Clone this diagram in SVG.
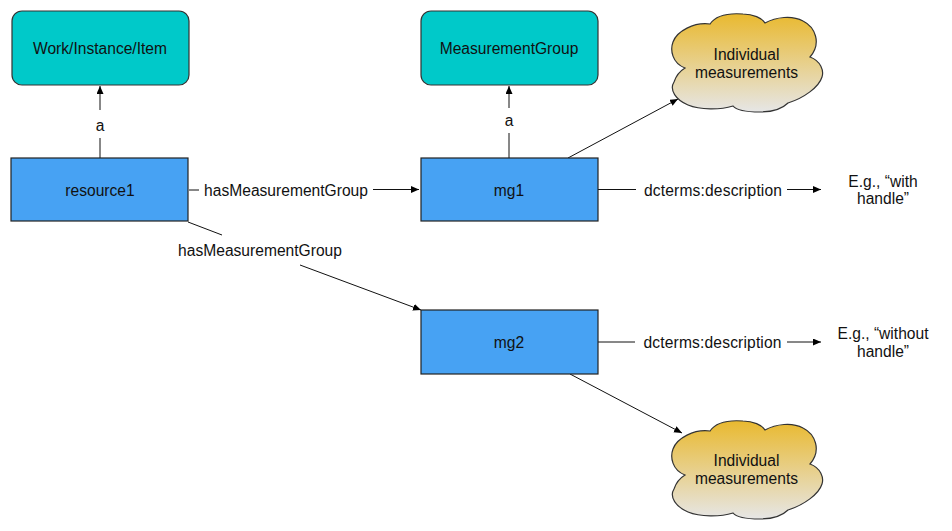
<svg xmlns="http://www.w3.org/2000/svg" width="952" height="531" viewBox="0 0 952 531">
<style>
text{font-family:"Liberation Sans",Arial,sans-serif;font-size:15.6px;fill:#111;text-anchor:middle}
.teal{fill:#00c9c9;stroke:#333;stroke-width:1.2}
.blue{fill:#47a2f3;stroke:#222;stroke-width:1.2}
.cloud{fill:url(#cg);stroke:#333;stroke-width:1.2}
.c{fill:none;stroke:#111;stroke-width:1}
</style>
<defs>
<linearGradient id="cg" x1="0" y1="0" x2="0" y2="1"><stop offset="0" stop-color="#e9b92f"/><stop offset="1" stop-color="#e6e6e6"/></linearGradient>
<marker id="arr" markerWidth="9" markerHeight="8" refX="8" refY="3.5" orient="auto" markerUnits="userSpaceOnUse"><path d="M0 0L8 3.500L0 7z" fill="#000"/></marker>
<path id="cloudShape" d="M685 68C672 63 670 50 673 42C677 31 694 22 710 24C716 15 730 13 743 14C753 14 762 18 765 23C776 17 792 15 803 21C815 27 822 43 810 57C821 61 824 71 822 77C819 87 804 98 788 103C782 109 771 112 760 112C748 112 737 111 733 106C720 110 700 110 688 105C676 100 669 90 674 82C676 76 680 71 685 68Z"/>
</defs>
<g id="connectors">
<path class="c" d="M100 158V138"/><path class="c" d="M100 110V86" marker-end="url(#arr)"/>
<path class="c" d="M189 190H199"/><path class="c" d="M373 189.500H419" marker-end="url(#arr)"/>
<path class="c" d="M188 222L222 235"/><path class="c" d="M300 265L421 310" marker-end="url(#arr)"/>
<path class="c" d="M509 158V133"/><path class="c" d="M509 108V86" marker-end="url(#arr)"/>
<path class="c" d="M568 158L678 99" marker-end="url(#arr)"/>
<path class="c" d="M598 189.500H636"/><path class="c" d="M787 189.500H821" marker-end="url(#arr)"/>
<path class="c" d="M598 342H635"/><path class="c" d="M787 342H821" marker-end="url(#arr)"/>
<path class="c" d="M570 374L682 433" marker-end="url(#arr)"/>
</g>
<g id="work"><rect class="teal" x="12" y="11" width="177" height="74" rx="10"/><text x="100" y="53.500">Work/Instance/Item</text></g>
<g id="group"><rect class="teal" x="421" y="11" width="177" height="74" rx="10"/><text x="509" y="53.500">MeasurementGroup</text></g>
<g id="resource1"><rect class="blue" x="11" y="158" width="177" height="63"/><text x="100" y="195.500">resource1</text></g>
<g id="mg1"><rect class="blue" x="421" y="158" width="177" height="63"/><text x="509" y="195.500">mg1</text></g>
<g id="mg2"><rect class="blue" x="421" y="310" width="177" height="64"/><text x="509" y="347.500">mg2</text></g>
<g id="cloud1"><use href="#cloudShape" class="cloud"/><text x="746.500" y="60">Individual</text><text x="746.500" y="77.500">measurements</text></g>
<g id="cloud2"><use href="#cloudShape" class="cloud" transform="translate(0 407)"/><text x="746.500" y="466">Individual</text><text x="746.500" y="483.500">measurements</text></g>
<g id="labels">
<text x="100" y="131">a</text><text x="509" y="126">a</text>
<text x="286" y="195.500">hasMeasurementGroup</text>
<text x="260" y="256">hasMeasurementGroup</text>
<text x="713" y="195.500" textLength="138" lengthAdjust="spacing">dcterms:description</text>
<text x="712.500" y="347.500" textLength="138" lengthAdjust="spacing">dcterms:description</text>
<text x="883" y="187">E.g., “with</text><text x="883" y="204">handle”</text>
<text x="883" y="339">E.g., “without</text><text x="883" y="356.500">handle”</text>
</g>
</svg>
